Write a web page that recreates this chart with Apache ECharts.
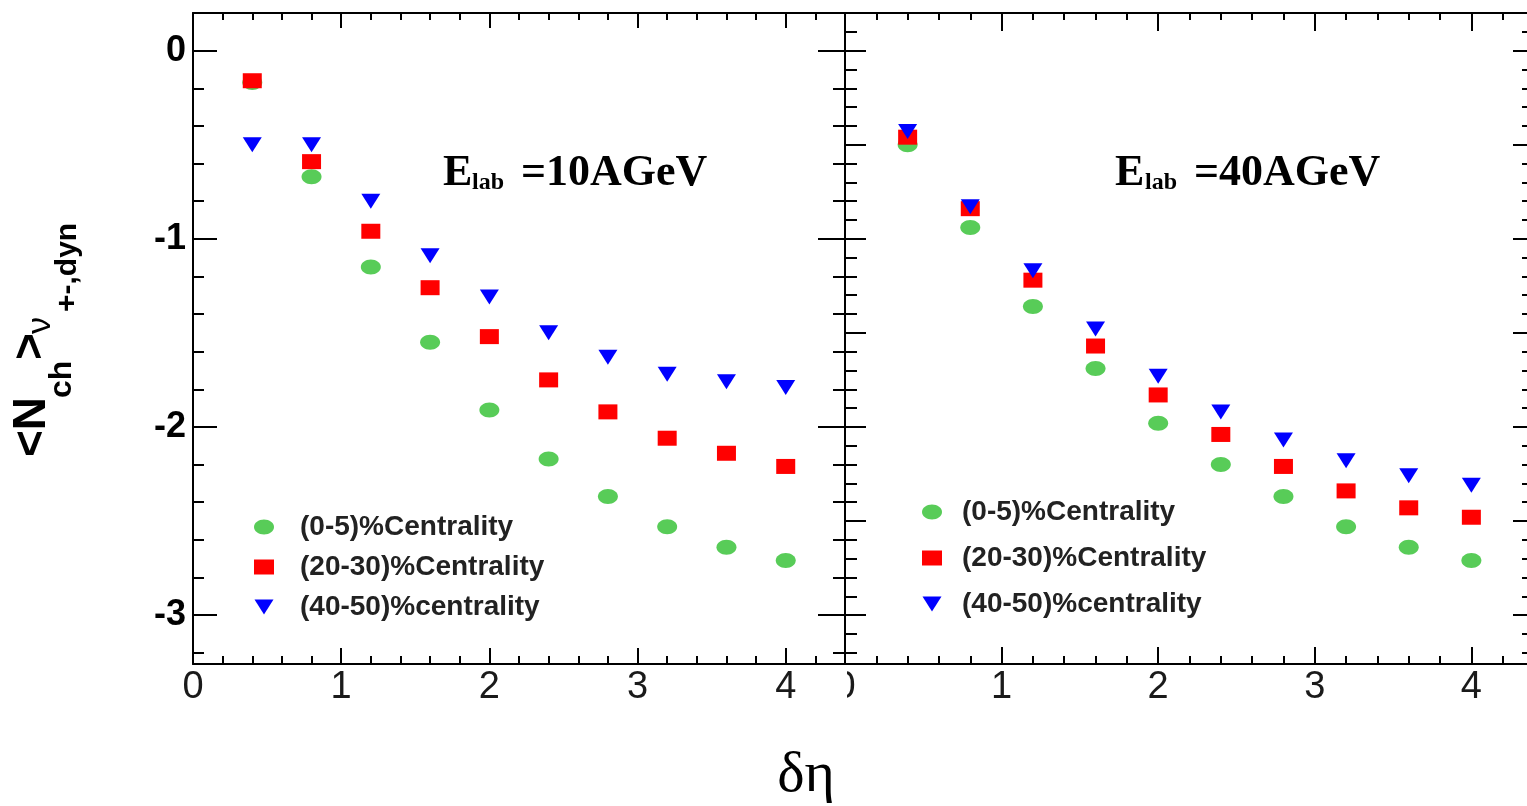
<!DOCTYPE html>
<html>
<head>
<meta charset="utf-8">
<script src="https://cdn.jsdelivr.net/npm/echarts@6/dist/echarts.min.js"></script>
<style>
  html, body { margin: 0; padding: 0; background: #fff; }
  #chart { width: 1527px; height: 806px; }
</style>
</head>
<body>
<div id="chart"></div>
<script>
// pseudorapidity window widths
const deltaEta = [0.4, 0.8, 1.2, 1.6, 2.0, 2.4, 2.8, 3.2, 3.6, 4.0];

// E_lab = 10 AGeV
const e10Central    = [-0.17, -0.67, -1.15, -1.55, -1.91, -2.17, -2.37, -2.53, -2.64, -2.71];
const e10Mid        = [-0.16, -0.59, -0.96, -1.26, -1.52, -1.75, -1.92, -2.06, -2.14, -2.21];
const e10Peripheral = [-0.50, -0.50, -0.80, -1.09, -1.31, -1.50, -1.63, -1.72, -1.76, -1.79];

// E_lab = 40 AGeV
const e40Central    = [-0.50, -0.94, -1.36, -1.69, -1.98, -2.20, -2.37, -2.53, -2.64, -2.71];
const e40Mid        = [-0.46, -0.84, -1.22, -1.57, -1.83, -2.04, -2.21, -2.34, -2.43, -2.48];
const e40Peripheral = [-0.43, -0.83, -1.17, -1.48, -1.73, -1.92, -2.07, -2.18, -2.26, -2.31];

const seriesNames = ['(0-5)%Centrality', '(20-30)%Centrality', '(40-50)%centrality'];

// tick values
const xMajor = [0, 1, 2, 3, 4];
const yMajorLeft = [0, -1, -2, -3];
const yMajorRight = [0, -0.5, -1, -1.5, -2, -2.5, -3];

const X_MIN = 0, X_MAX = 4.4, Y_MIN = -3.26, Y_MAX = 0.2;

function steps(from, to, step, skipEvery) {
  const out = [];
  const n = Math.round((to - from) / step);
  for (let i = 0; i <= n; i++) {
    const v = +(from + i * step).toFixed(3);
    if (skipEvery && Math.abs(v / skipEvery - Math.round(v / skipEvery)) < 1e-6) continue;
    out.push(v);
  }
  return out;
}
const xMinor = steps(0.2, 4.2, 0.2, 1);
const yMinorLeft = steps(-3.2, 0, 0.2, 1);
const yMinorRight = steps(-3.2, 0.1, 0.1, 0.5);

// ellipse built from cubic curves so it keeps its 4:3 shape in the legend too
const ELLIPSE = 'path://M0,37.5 C0,16.8 22.4,0 50,0 C77.6,0 100,16.8 100,37.5 C100,58.2 77.6,75 50,75 C22.4,75 0,58.2 0,37.5 Z';
const TRI_DOWN = 'path://M0,0 L100,0 L50,79 Z';
const GREEN = '#58cc58', RED = '#ff0000', BLUE = '#0000ff';

const LINE_ON = { show: true, onZero: false, lineStyle: { color: '#000', width: 2 } };
const LINE_OFF = { show: false, onZero: false };

function xAx(grid, pos, ticks, len, opts) {
  return Object.assign({
    type: 'value', gridIndex: grid, position: pos, min: X_MIN, max: X_MAX,
    axisLine: LINE_OFF,
    axisTick: { show: true, inside: true, length: len, customValues: ticks, lineStyle: { color: '#000', width: 2 } },
    axisLabel: { show: false },
    splitLine: { show: false }
  }, opts || {});
}
function yAx(grid, pos, ticks, len, opts) {
  return Object.assign({
    type: 'value', gridIndex: grid, position: pos, min: Y_MIN, max: Y_MAX,
    axisLine: LINE_OFF,
    axisTick: { show: true, inside: true, length: len, customValues: ticks, lineStyle: { color: '#000', width: 2 } },
    axisLabel: { show: false },
    splitLine: { show: false }
  }, opts || {});
}

const xLabel = {
  show: true, customValues: xMajor, margin: 5,
  fontFamily: 'Liberation Sans', fontSize: 38, color: '#1a1a1a'
};

const xAxes = [
  // left panel
  xAx(0, 'bottom', xMajor, 16, { axisLine: LINE_ON, axisLabel: xLabel }),
  xAx(0, 'bottom', xMinor, 8),
  xAx(0, 'top', xMajor, 15, { axisLine: LINE_ON }),
  xAx(0, 'top', xMinor, 7),
  // right panel
  xAx(1, 'bottom', xMajor, 17, { axisLine: LINE_ON, axisLabel: xLabel }),
  xAx(1, 'bottom', xMinor, 8),
  xAx(1, 'top', xMajor, 18, { axisLine: LINE_ON }),
  xAx(1, 'top', xMinor, 7)
];

const yAxes = [
  // left panel
  yAx(0, 'left', yMajorLeft, 24, {
    axisLine: LINE_ON,
    axisLabel: { show: true, customValues: yMajorLeft, margin: 7, fontFamily: 'Liberation Sans', fontWeight: 'bold', fontSize: 36, color: '#000' }
  }),
  yAx(0, 'left', yMinorLeft, 11),
  yAx(0, 'right', yMajorLeft, 27, { axisLine: LINE_ON }),
  yAx(0, 'right', yMinorLeft, 12),
  // right panel
  yAx(1, 'left', yMajorRight, 21, { axisLine: LINE_ON }),
  yAx(1, 'left', yMinorRight, 12),
  yAx(1, 'right', yMajorRight, 21, { axisLine: LINE_ON }),
  yAx(1, 'right', yMinorRight, 12)
];

function pairs(ys) { return deltaEta.map((x, i) => [x, ys[i]]); }

function scatter(name, data, panel, symbol, size, color) {
  return {
    type: 'scatter', name: name,
    xAxisIndex: panel * 4, yAxisIndex: panel * 4,
    data: pairs(data),
    symbol: symbol, symbolSize: size,
    itemStyle: { color: color, opacity: 1 },
    emphasis: { disabled: true },
    silent: true
  };
}

const series = [
  scatter(seriesNames[0], e10Central, 0, ELLIPSE, [20, 15], GREEN),
  scatter(seriesNames[1], e10Mid, 0, 'rect', [19, 15], RED),
  scatter(seriesNames[2], e10Peripheral, 0, TRI_DOWN, [19, 15], BLUE),
  scatter(seriesNames[0], e40Central, 1, ELLIPSE, [20, 15], GREEN),
  scatter(seriesNames[1], e40Mid, 1, 'rect', [19, 15], RED),
  scatter(seriesNames[2], e40Peripheral, 1, TRI_DOWN, [19, 15], BLUE)
];

const legendItems = [
  { name: seriesNames[0], icon: ELLIPSE },
  { name: seriesNames[1], icon: 'rect' },
  { name: seriesNames[2], icon: TRI_DOWN }
];

function legend(left, top, gap, pad) {
  return {
    data: legendItems, orient: 'vertical', left: left, top: top,
    itemWidth: 20, itemHeight: 15, itemGap: gap, padding: 0,
    selectedMode: false,
    textStyle: {
      fontFamily: 'Liberation Sans', fontWeight: 'bold', fontSize: 28,
      color: '#222', lineHeight: 24, padding: [0, 0, 0, pad]
    }
  };
}

function energyLabel(xE, xSub, xRest, text) {
  return [
    { type: 'text', x: xE, y: 174, z: 50,
      style: { text: 'E', font: 'bold 44px "Liberation Serif"', fill: '#000', align: 'left', verticalAlign: 'middle' } },
    { type: 'text', x: xSub, y: 183, z: 50,
      style: { text: 'lab', font: 'bold 24px "Liberation Serif"', fill: '#000', align: 'left', verticalAlign: 'middle' } },
    { type: 'text', x: xRest, y: 174, z: 50,
      style: { text: text, font: 'bold 44px "Liberation Serif"', fill: '#000', align: 'left', verticalAlign: 'middle' } }
  ];
}

// rotated y-axis title: <N_ch> ν_{+-,dyn}
const yTitle = {
  type: 'group', x: 0, y: 457, rotation: Math.PI / 2, z: 50,
  children: [
    { type: 'text', x: 0, y: 32, style: { text: '<N', font: 'bold 46px "Liberation Sans"', fill: '#000', align: 'left', verticalAlign: 'middle' } },
    { type: 'text', x: 59, y: 62, style: { text: 'ch', font: 'bold 32px "Liberation Sans"', fill: '#000', align: 'left', verticalAlign: 'middle' } },
    { type: 'text', x: 97, y: 31, style: { text: '>', font: 'bold 46px "Liberation Sans"', fill: '#000', align: 'left', verticalAlign: 'middle' } },
    { type: 'text', x: 123, y: 41, style: { text: 'ν', font: '34px "Liberation Sans"', fill: '#000', align: 'left', verticalAlign: 'middle' } },
    { type: 'text', x: 145, y: 68, style: { text: '+-,dyn', font: 'bold 30px "Liberation Sans"', fill: '#000', align: 'left', verticalAlign: 'middle' } }
  ]
};

const option = {
  backgroundColor: '#fff',
  animation: false,
  grid: [
    { left: 193, top: 13, width: 652, height: 651, outerBoundsMode: 'none' },
    { left: 845, top: 13, width: 689, height: 651, outerBoundsMode: 'none' }
  ],
  xAxis: xAxes,
  yAxis: yAxes,
  legend: [legend(254, 513, 12, 21), legend(922, 498, 18, 15)],
  series: series,
  graphic: [
    // the left panel overlaps the first tick label of the right panel
    { type: 'rect', z: 40, shape: { x: 820, y: 668, width: 27, height: 44 }, style: { fill: '#fff' } },
    ...energyLabel(443, 472, 521, '=10AGeV'),
    ...energyLabel(1115, 1145, 1194, '=40AGeV'),
    { type: 'text', x: 806, y: 776, z: 50,
      style: { text: 'δη', font: '58px "Liberation Serif"', fill: '#000', align: 'center', verticalAlign: 'middle' } },
    yTitle
  ]
};

const chart = echarts.init(document.getElementById('chart'), null, { renderer: 'canvas' });
chart.setOption(option);
</script>
</body>
</html>
